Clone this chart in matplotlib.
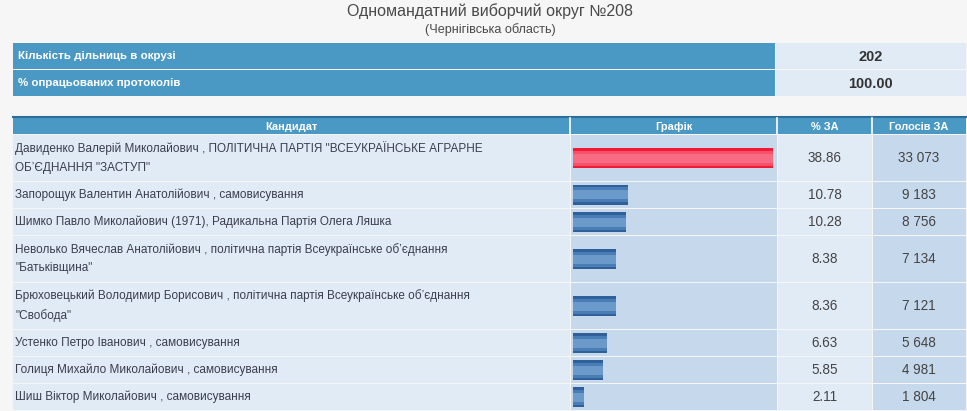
import matplotlib
matplotlib.use("Agg")
import matplotlib.pyplot as plt
from matplotlib.patches import Rectangle

plt.rcParams['font.family'] = ['Liberation Sans', 'DejaVu Sans']

title = "Одномандатний виборчий округ №208"
subtitle = "(Чернігівська область)"

summary_labels = ["Кількість дільниць в окрузі", "% опрацьованих протоколів"]
summary_values = ["202", "100.00"]

col_headers = ["Кандидат", "Графік", "% ЗА", "Голосів ЗА"]

candidates = [
    'Давиденко Валерій Миколайович , ПОЛІТИЧНА ПАРТІЯ "ВСЕУКРАЇНСЬКЕ АГРАРНЕ\nОБ\u2019ЄДНАННЯ "ЗАСТУП"',
    "Запорощук Валентин Анатолійович , самовисування",
    "Шимко Павло Миколайович (1971), Радикальна Партія Олега Ляшка",
    'Неволько Вячеслав Анатолійович , політична партія Всеукраїнське об\u2019єднання\n"Батьківщина"',
    'Брюховецький Володимир Борисович , політична партія Всеукраїнське об\u2019єднання\n"Свобода"',
    "Устенко Петро Іванович , самовисування",
    "Голиця Михайло Миколайович , самовисування",
    "Шиш Віктор Миколайович , самовисування",
]
pct = [38.86, 10.78, 10.28, 8.38, 8.36, 6.63, 5.85, 2.11]
votes = [33073, 9183, 8756, 7134, 7121, 5648, 4981, 1804]

W, H = 967, 411
fig = plt.figure(figsize=(W / 100, H / 100), dpi=100)
fig.patch.set_facecolor("#f6f6f6")
ax = fig.add_axes([0, 0, 1, 1])
ax.set_xlim(0, W)
ax.set_ylim(H, 0)
ax.axis("off")

def px(s):
    return s * 0.72

HEAD = "#4a98c4"
LIGHT = "#e1ebf5"
MID = "#c6d8ec"
TXT = "#3a3d4e"

ax.text(490, 11, title, ha="center", va="center", fontsize=px(16), color="#4a4a4a")
ax.text(490, 30, subtitle, ha="center", va="center", fontsize=px(12.6), color="#4a4a4a")

# summary table
x0, xv, x1 = 13, 775, 966
rows1 = [(43, 69), (70, 96)]
for (t, b), lab, val in zip(rows1, summary_labels, summary_values):
    ax.add_patch(Rectangle((x0, t), xv - x0, b - t, color=HEAD, lw=0))
    ax.add_patch(Rectangle((xv + 1, t), x1 - xv - 1, b - t, color=LIGHT, lw=0))
    ax.text(x0 + 5, (t + b) / 2, lab, ha="left", va="center", fontsize=px(11.5),
            color="white", fontweight="bold")
    ax.text((xv + x1) / 2, (t + b) / 2 + 1, val, ha="center", va="center", fontsize=px(14.5),
            color="#333333", fontweight="bold")

# main table
cols = [13, 570, 777, 872, 966]
ht, hb = 117, 134
ax.add_patch(Rectangle((cols[0], ht), cols[-1] - cols[0], hb - ht, color=HEAD, lw=0))
ax.plot([cols[0], cols[-1]], [ht + 0.5, ht + 0.5], color="#2d6e98", lw=1.5)
for i, h in enumerate(col_headers):
    if i > 0:
        ax.plot([cols[i], cols[i]], [ht + 1, hb], color="white", lw=1.2)
    ax.text((cols[i] + cols[i + 1]) / 2, (ht + hb) / 2 + 1, h, ha="center", va="center",
            fontsize=px(11), color="white", fontweight="bold")

row_tops = [134]
for c in candidates:
    row_tops.append(row_tops[-1] + (47 if "\n" in c else 27))

fills = [LIGHT, MID, LIGHT, MID]
for i, c in enumerate(candidates):
    t, b = row_tops[i], row_tops[i + 1]
    for j in range(4):
        ax.add_patch(Rectangle((cols[j] + (1 if j else 0), t + 1), cols[j + 1] - cols[j] - (1 if j else 0),
                               b - t - 1, color=fills[j], lw=0))
    cy = (t + b) / 2
    ax.text(15, cy, c, ha="left", va="center", fontsize=px(11.8), color=TXT, linespacing=1.72)
    ax.text((cols[2] + cols[3]) / 2, cy, f"{pct[i]:.2f}", ha="center", va="center",
            fontsize=px(13.5), color="#444444")
    ax.text((cols[3] + cols[4]) / 2, cy, f"{votes[i]:,}".replace(",", " "), ha="center",
            va="center", fontsize=px(13.5), color="#444444")

# bars in their own axes over the graph column
bx0, bx1 = 573, 773
bax = fig.add_axes([bx0 / W, 0, (bx1 - bx0) / W, 1])
bax.set_xlim(0, max(pct))
bax.set_ylim(H, 0)
bax.axis("off")
bax.patch.set_alpha(0)
centers = [(row_tops[i] + row_tops[i + 1]) / 2 + 0.5 for i in range(len(pct))]
for i, p in enumerate(pct):
    if i == 0:
        shades = [(20, "#f01a36"), (15, "#f5526a"), (9, "#f76c82")]
    else:
        shades = [(20, "#30609a"), (15, "#4a7db6"), (9, "#6a99ca")]
    for h, col in shades:
        bax.barh(centers[i], p, height=h, left=0, color=col, lw=0)

fig.savefig("out.png", dpi=100, facecolor=fig.get_facecolor())
